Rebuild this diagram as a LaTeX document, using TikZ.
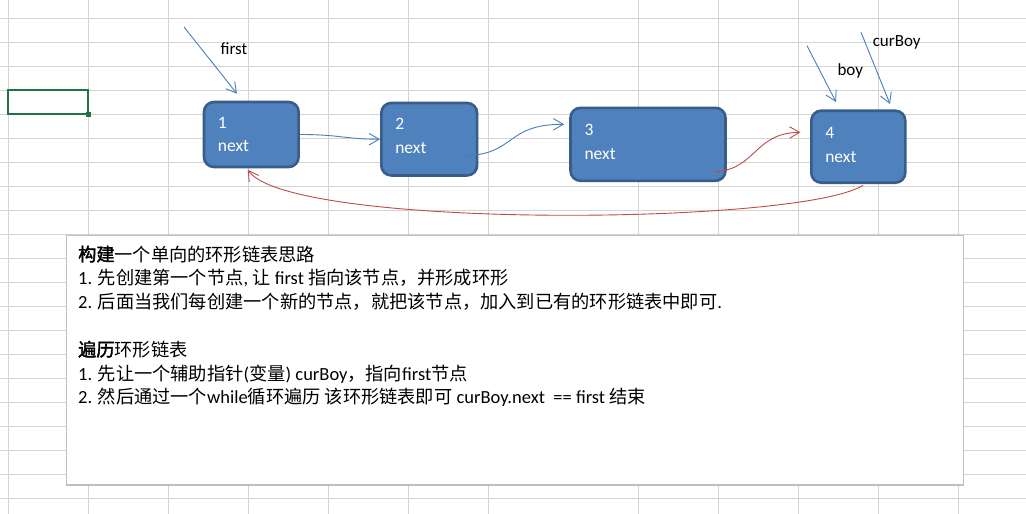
\documentclass[tikz,border=0pt]{standalone}
\usepackage{fontspec}
\setmainfont{Carlito}
\newfontfamily\cjk{Noto Sans CJK SC}[Scale=0.985,AutoFakeBold=2]
\usetikzlibrary{arrows.meta}

\definecolor{nodefill}{HTML}{4F81BD}
\definecolor{nodeborder}{HTML}{385D8A}
\definecolor{linkblue}{HTML}{4A7EBB}
\definecolor{linkred}{HTML}{BE4B48}
\definecolor{gridgray}{HTML}{D4D4D4}
\definecolor{cellgreen}{HTML}{217346}
\definecolor{boxgray}{HTML}{BFBFBF}

\newcommand{\zh}[1]{{\cjk #1}}

\begin{document}
\begin{tikzpicture}[x=1pt, y=-1pt,
    every node/.style={font=\fontsize{17}{23.4}\selectfont},
    listnode/.style={draw=nodeborder, fill=nodefill, line width=2.6pt, rounded corners=10pt,
        text=white, inner xsep=14pt, inner ysep=3pt, align=left, font=\fontsize{17.5}{23.4}\selectfont},
    bluelink/.style={draw=linkblue, line width=0.9pt, -{Straight Barb[length=10pt, width=11.5pt]}},
    redlink/.style={bluelink, draw=linkred},
    gridline/.style={draw=gridgray, line width=0.9pt},
    textline/.style={anchor=base west, inner sep=0pt, font=\fontsize{18.5}{23.4}\selectfont}]

    \useasboundingbox (0, 0) rectangle (1026, 514);
    \fill [white] (0, 0) rectangle (1026, 514);

    % sheet grid
    \foreach \x in {8.3, 88.3, 168.3, 248.3, 328.3, 408.3, 488.3, 638, 718, 798, 878, 958}
        \draw [gridline] (\x, 0) -- (\x, 514);
    \foreach \y in {18, 42, ..., 498}
        \draw [gridline] (0, \y) -- (1026, \y);
    \draw [cellgreen, line width=2pt] (8.3, 90.3) rectangle (88.3, 114);
    \fill [cellgreen] (85.8, 111.6) rectangle (90.8, 116.6);

    % notes
    \draw [draw=boxgray, fill=white, line width=1.3pt] (66.7, 235.5) rectangle (963.3, 485);
    \node (t1) [textline] at (78, 261) {\zh{\bfseries 构建}\zh{一个单向的环形链表思路}};
    \node (t2) [textline] at (78, 284.8) {1. \zh{先创建第一个节点}, \zh{让} first \zh{指向该节点，并形成环形}};
    \node (t3) [textline] at (78, 308.6) {2. \zh{后面当我们每创建一个新的节点，就把该节点，加入到已有的环形链表中即可}.};
    \node (t4) [textline] at (78, 356.2) {\zh{\bfseries 遍历}\zh{环形链表}};
    \node (t5) [textline] at (78, 380) {1. \zh{先让一个辅助指针}(\zh{变量}) curBoy\zh{，指向}first\zh{节点}};
    \node (t6) [textline] at (78, 403.8) {2. \zh{然后通过一个}while\zh{循环遍历} \zh{该环形链表即可} curBoy.next\ \ == first \zh{结束}};

    % list
    \node (n1) [listnode, minimum width=94.7pt, minimum height=65pt, text width=66.7pt] at (251.3, 134.5) {1\\next};
    \node (n2) [listnode, minimum width=95.8pt, minimum height=72.5pt, text width=67.8pt] at (429.2, 139.2) {2\\next\rule[-7pt]{0pt}{7pt}};
    \node (n3) [listnode, minimum width=155pt, minimum height=73pt, text width=127pt] at (648, 144.3) {3\\next\rule[-5pt]{0pt}{5pt}};
    \node (n4) [listnode, minimum width=94pt, minimum height=72pt, text width=66pt] at (858.3, 146.7) {4\\next\rule[-4pt]{0pt}{4pt}};

    \draw [bluelink] (n1.east) .. controls +(40, 0) and +(-35, 0) .. (n2.west);
    \draw [bluelink] ([shift={(-15, 16.5)}]n2.east) .. controls +(53, -0.7) and +(-60, 0) .. ([shift={(-5, -20)}]n3.west);
    \draw [redlink] ([shift={(-12.5, 27.4)}]n3.east) .. controls +(42, -1.7) and +(-47, 0.7) .. ([shift={(-9.6, -14.4)}]n4.west);
    \draw [redlink] ([shift={(4.7, 1.3)}]n4.south) .. controls +(-63, 40) and +(42, 60) .. ([shift={(-3.6, 1.5)}]n1.south);

    % pointers
    \node (lfirst) [anchor=base] at (234, 54.5) {first};
    \node (lboy) [anchor=base] at (850.3, 75) {boy};
    \node (lcur) [anchor=base] at (896.7, 46) {curBoy};
    \coordinate (firsttail) at (184, 27);
    \coordinate (boytail) at (807, 45.7);
    \coordinate (curtail) at (861, 32.3);
    \draw [bluelink] (firsttail) -- ([shift={(-14.3, -7)}]n1.north);
    \draw [bluelink] (boytail) -- ([shift={(-22.3, -7.4)}]n4.north);
    \draw [bluelink] (curtail) -- ([shift={(31.7, -5.4)}]n4.north);
\end{tikzpicture}
\end{document}
